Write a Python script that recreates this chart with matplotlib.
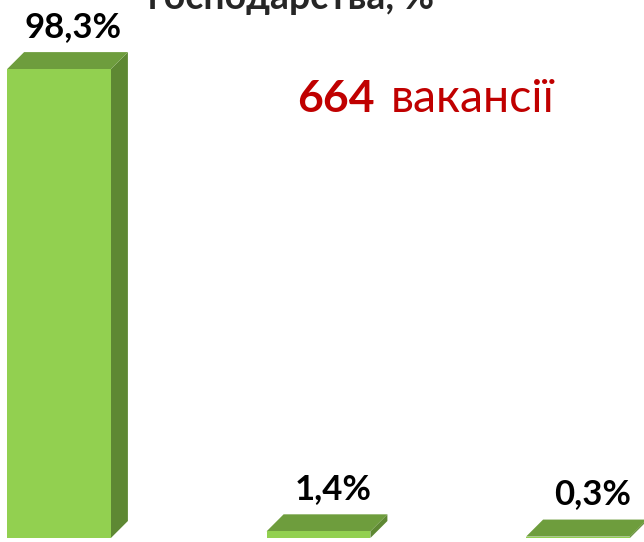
import matplotlib.pyplot as plt
import numpy as np

# chart data
categories = ['A', 'B', 'C']
values = [98.3, 1.4, 0.3]
labels = ['98,3%', '1,4%', '0,3%']
title_tail = 'господарства, %'
vac_num = '664'
vac_word = 'вакансії'

front_c = '#92D050'
top_c = '#6E9D3D'
side_c = '#5E8833'

W, H = 644, 542
fig = plt.figure(figsize=(W / 100, H / 100), dpi=100)
ax = fig.add_axes([0, 0, 1, 1])

# pixel mapping: category step and % scale
step_px = 259.5
pct_px = 4.77
x0_px = 59      # centre of first bar front
base_px = 538   # y pixel (from top) of the zero line
ax.set_xlim(-x0_px / step_px, (W - x0_px) / step_px)
ax.set_ylim(-(H - base_px) / pct_px, base_px / pct_px)
ax.axis('off')

bw = 0.4
dx = 17 / step_px
dy = 17 / pct_px

for i, v in enumerate(values):
    l, r = i - bw / 2, i + bw / 2
    # side face
    ax.fill([r, r + dx, r + dx, r], [0, dy, v + dy, v], color=side_c, lw=0)
    # top face
    ax.fill([l, l + dx, r + dx, r], [v, v + dy, v + dy, v], color=top_c, lw=0)
    # front face
    ax.fill([l, r, r, l], [0, 0, v, v], color=front_c, lw=0)
    ax.text(i + dx * 0.85, v + dy + 5.3, labels[i], ha='center', va='center',
            fontsize=25, fontweight='bold', family='Lato', color='black')

fig.text(148 / W, 1 - 9 / H, title_tail, ha='left', va='baseline',
         fontsize=27, fontweight='bold', family='Lato', color='#262626')

fig.text(297 / W, 1 - 112 / H, vac_num, ha='left', va='baseline',
         fontsize=32, fontweight='bold', family='Lato', color='#C00000')
fig.text(391 / W, 1 - 112 / H, vac_word, ha='left', va='baseline',
         fontsize=33.5, family='Lato', color='#C00000')

fig.savefig('out.png', dpi=100)
